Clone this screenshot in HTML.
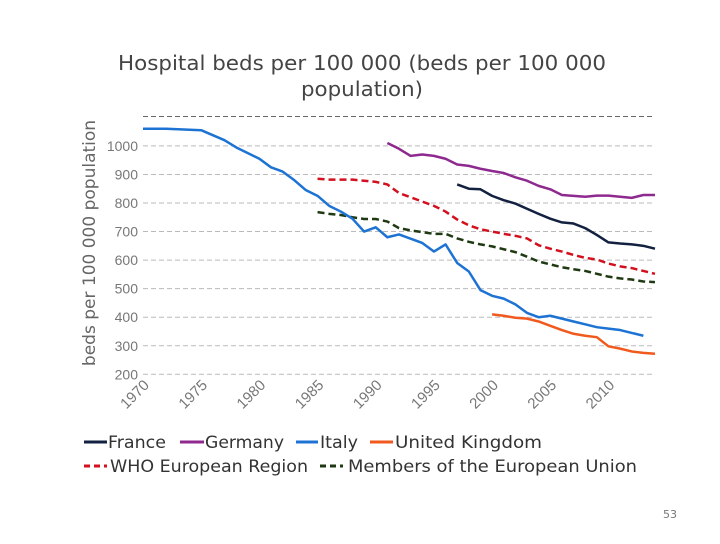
<!DOCTYPE html>
<html><head><meta charset="utf-8"><style>
body{margin:0;background:#fff;width:720px;height:540px;overflow:hidden;font-family:"DejaVu Sans","Liberation Sans",sans-serif}
</style></head><body>
<svg id="c" width="720" height="540" xmlns="http://www.w3.org/2000/svg" font-family="DejaVu Sans, Liberation Sans, sans-serif">
<text x="118" y="70" textLength="488" lengthAdjust="spacingAndGlyphs" font-size="20" fill="#444">Hospital beds per 100 000 (beds per 100 000</text>
<text x="301" y="96" textLength="122" lengthAdjust="spacingAndGlyphs" font-size="20" fill="#444">population)</text>
<text transform="translate(95,243) rotate(-90)" text-anchor="middle" font-size="17" fill="#666">beds per 100 000 population</text>
<line x1="143" x2="655" y1="116.5" y2="116.5" stroke="#666" stroke-dasharray="5,3"/>
<g id="grid"></g><g id="series"></g>
<text x="670" y="518" text-anchor="middle" font-size="11" fill="#777">53</text>
</svg>
<script>
const yTicks=[200,300,400,500,600,700,800,900,1000];
const xTicks=[1970,1975,1980,1985,1990,1995,2000,2005,2010];
const italyYears=[1970,1972,1975,1977,1978,1980,1981,1982,1983,1984,1985,1986,1987,1988,1989,1990,1991,1992,1993,1994,1995,1996,1997,1998,1999,2000,2001,2002,2003,2004,2005,2006,2007,2008,2009,2010,2011,2012,2013];
const italy=[1060,1060,1055,1020,995,955,925,910,880,845,825,790,770,745,700,715,680,690,675,660,630,655,590,560,495,475,465,445,415,400,405,395,385,375,365,360,355,345,335];
const germanyYears=[1991,1992,1993,1994,1995,1996,1997,1998,1999,2000,2001,2002,2003,2004,2005,2006,2007,2008,2009,2010,2011,2012,2013,2014];
const germany=[1010,990,965,970,965,955,935,930,920,912,905,890,878,860,848,828,825,822,826,826,822,818,828,828];
const franceYears=[1997,1998,1999,2000,2001,2002,2003,2004,2005,2006,2007,2008,2009,2010,2011,2012,2013,2014];
const france=[865,850,848,825,810,798,780,762,745,732,728,712,688,662,658,655,650,640];
const whoYears=[1985,1986,1987,1988,1989,1990,1991,1992,1993,1994,1995,1996,1997,1998,1999,2000,2001,2002,2003,2004,2005,2006,2007,2008,2009,2010,2011,2012,2013,2014];
const who=[885,882,882,882,878,874,865,835,820,805,790,770,742,722,708,700,692,685,676,652,640,630,618,608,602,588,578,572,562,552];
const eu=[768,762,758,750,744,744,735,712,704,698,692,692,676,664,655,648,638,628,612,595,585,575,568,562,552,542,536,532,525,523];
const ukYears=[2000,2001,2002,2003,2004,2005,2006,2007,2008,2009,2010,2011,2012,2013,2014];
const uk=[410,405,398,395,385,370,355,342,335,330,298,290,280,275,272];
const NS="http://www.w3.org/2000/svg";
const X=y=>143+(y-1970)*(512/44);
const Y=v=>374.3-(v-200)*0.2855;
function mk(t,a,p){const e=document.createElementNS(NS,t);for(const k in a)e.setAttribute(k,a[k]);p.appendChild(e);return e;}
const g=document.getElementById('grid');
yTicks.forEach(v=>{
 const l=mk('line',{x1:143,x2:655,y1:Y(v),y2:Y(v),stroke:'#bbb','stroke-dasharray':'5,3'},g);
 
 
 const t=mk('text',{x:138,y:Y(v)+5,'text-anchor':'end','font-size':14,fill:'#777','font-family':'Liberation Sans, sans-serif'},g);
 t.textContent=v;
 
 
});
xTicks.forEach(v=>{
 const t=mk('text',{transform:`translate(${X(v)+7},${386}) rotate(-45)`,'text-anchor':'end','font-size':15,fill:'#777','font-family':'Liberation Sans, sans-serif'},g);
 t.textContent=v;
 
 
});
const s=document.getElementById('series');
function line(xs,vs,col,dash,name){
 const p=mk('polyline',{points:xs.map((x,i)=>X(x)+','+Y(vs[i])).join(' '),fill:'none',stroke:col,'stroke-width':2.5,'stroke-dasharray':dash||'none','stroke-linejoin':'round'},s);
 
 
}
line(whoYears,who,'#d3101e','7,4','who-line');
line(whoYears,eu,'#1f3a12','7,4','eu-line');
line(germanyYears,germany,'#8e2a8f','','germany-line');
line(franceYears,france,'#12213f','','france-line');
line(italyYears,italy,'#1d73d3','','italy-line');
line(ukYears,uk,'#f15a1e','','uk-line');
const leg=[[84,107,108,58,442,'#12213f','','France'],[180,204,205,79,442,'#8e2a8f','','Germany'],[296,318,320,38,442,'#1d73d3','','Italy'],[370,393,395,147,442,'#f15a1e','','United Kingdom'],[84,107,110,198,466,'#d3101e','6,4','WHO European Region'],[320,343,348,289,466,'#1f3a12','6,4','Members of the European Union']];
leg.forEach(([x1,x2,tx,tw,y,c,d,n])=>{
 const l=mk('line',{x1:x1,x2:x2,y1:y,y2:y,stroke:c,'stroke-width':3,'stroke-dasharray':d||'none'},s);
 
 
 const t=mk('text',{x:tx,y:y+6,'font-size':17,fill:'#333',textLength:tw,lengthAdjust:'spacingAndGlyphs'},s);
 t.textContent=n;
 
 
});
</script>
</body></html>
